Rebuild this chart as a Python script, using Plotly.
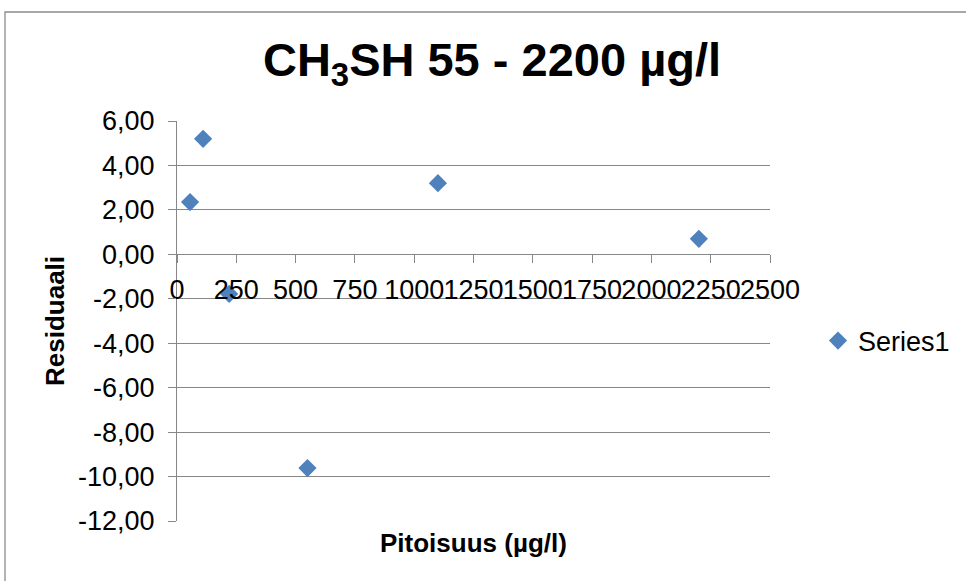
import plotly.graph_objects as go

# Data
concentration = [55, 110, 220, 550, 1100, 2200]
residual = [2.35, 5.2, -1.78, -9.62, 3.2, 0.7]
series_name = "Series1"

x_tick_vals = [0, 250, 500, 750, 1000, 1250, 1500, 1750, 2000, 2250, 2500]
x_tick_text = ["0", "250", "500", "750", "1000", "1250", "1500", "1750", "2000", "2250", "2500"]
y_tick_vals = [6, 4, 2, 0, -2, -4, -6, -8, -10, -12]
y_tick_text = ["6,00", "4,00", "2,00", "0,00", "-2,00", "-4,00", "-6,00", "-8,00", "-10,00", "-12,00"]

title_text = "<b>CH<sub>3</sub>SH 55 - 2200 µg/l</b>"
x_title = "<b>Pitoisuus (µg/l)</b>"
y_title = "<b>Residuaali</b>"

W, H = 966, 581
L, R, T, B = 177, 196, 121, 60
PW, PH = W - L - R, H - T - B

def px_x(p):
    return (p - L) / PW

def px_y(p):
    return (H - B - p) / PH

FONT = "Liberation Sans, Arial, sans-serif"
GRID = "#878787"
TICK_SIZE = 27

fig = go.Figure()
fig.add_trace(go.Scatter(
    x=concentration, y=residual, mode="markers", name=series_name,
    marker=dict(symbol="diamond", size=14, color="#4F81BD"),
))

fig.update_layout(
    width=W, height=H,
    margin=dict(l=L, r=R, t=T, b=B, pad=0, autoexpand=False),
    paper_bgcolor="white", plot_bgcolor="white",
    font=dict(family=FONT, size=TICK_SIZE, color="black"),
    title=dict(text=title_text, x=492 / W, xanchor="center",
               y=1 - 60 / H, yanchor="middle", yref="container",
               font=dict(family=FONT, size=47, color="black")),
    showlegend=True,
    legend=dict(x=px_x(818), y=px_y(341), xanchor="left", yanchor="middle",
                font=dict(size=TICK_SIZE), bgcolor="rgba(0,0,0,0)", itemsizing="trace"),
    xaxis=dict(range=[0, 2500], tickvals=x_tick_vals, ticktext=x_tick_text,
               showgrid=False, zeroline=False, showline=True, linecolor=GRID, linewidth=1,
               ticks="outside", ticklen=8, tickcolor=GRID, tickwidth=1,
               anchor="free", position=12 / 18, tickfont=dict(size=TICK_SIZE),
               tickangle=0, ticklabelstandoff=3),
    yaxis=dict(range=[-12, 6], tickvals=y_tick_vals, ticktext=y_tick_text,
               showgrid=True, gridcolor=GRID, gridwidth=1, zeroline=False,
               showline=True, linecolor=GRID, linewidth=1,
               ticks="outside", ticklen=8, tickcolor=GRID, tickwidth=1,
               ticklabelstandoff=8, tickfont=dict(size=TICK_SIZE)),
    annotations=[
        dict(text=x_title, xref="paper", yref="paper", x=px_x(473), y=px_y(543),
             xanchor="center", yanchor="middle", showarrow=False,
             font=dict(family=FONT, size=26, color="black")),
        dict(text=y_title, xref="paper", yref="paper", x=px_x(55), y=px_y(321),
             xanchor="center", yanchor="middle", showarrow=False, textangle=-90,
             font=dict(family=FONT, size=26, color="black")),
    ],
    shapes=[
        dict(type="rect", xref="paper", yref="paper",
             x0=px_x(5), x1=px_x(990), y0=px_y(600), y1=px_y(12),
             line=dict(color="#8c8c8c", width=1.3), fillcolor="rgba(0,0,0,0)", layer="below"),
    ],
)

fig.write_html("out.html")
